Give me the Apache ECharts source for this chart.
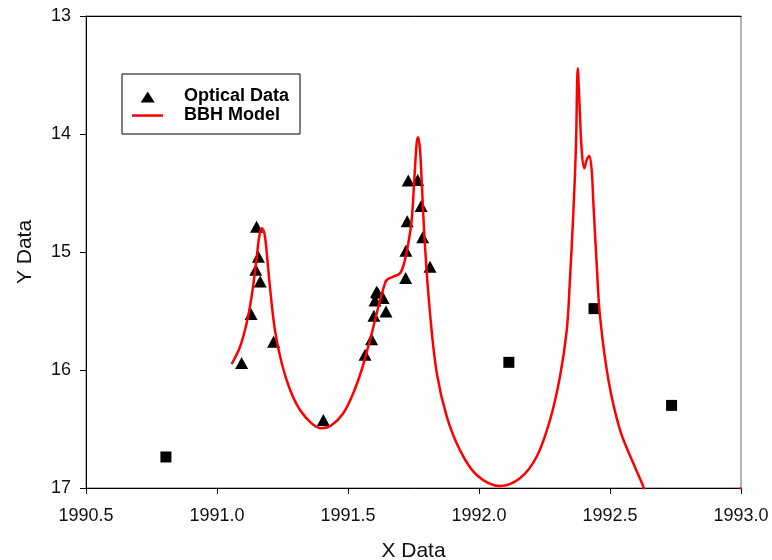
<!DOCTYPE html>
<html>
<head>
<meta charset="utf-8">
<script src="https://cdn.jsdelivr.net/npm/echarts@6/dist/echarts.min.js"></script>
<style>
	html, body { margin: 0; padding: 0; background: #fff; }
	#chart { width: 772px; height: 560px; }
</style>
</head>
<body>
<div id="chart"></div>
<script>
	// 光学观测数据 (三角)
	var opticalData = [
		[1991.094, 15.94], [1991.130, 15.525], [1991.148, 15.15], [1991.151, 14.786],
		[1991.158, 15.04], [1991.165, 15.25], [1991.216, 15.76], [1991.406, 16.424],
		[1991.565, 15.87], [1991.590, 15.74], [1991.599, 15.54], [1991.603, 15.41],
		[1991.609, 15.336], [1991.613, 15.345], [1991.634, 15.39], [1991.645, 15.505],
		[1991.720, 15.22], [1991.721, 14.99], [1991.726, 14.74], [1991.730, 14.395],
		[1991.766, 14.39], [1991.779, 14.61], [1991.785, 14.875], [1991.813, 15.125]
	];

	// 其它观测点 (方块)
	var squareData = [
		[1990.805, 16.737], [1992.114, 15.935], [1992.439, 15.48], [1992.735, 16.30]
	];

	// BBH 模型曲线
	var modelData = [
		[1991.056, 15.949], [1991.088, 15.803], [1991.113, 15.604], [1991.132, 15.379],
		[1991.152, 15.040], [1991.161, 14.870], [1991.171, 14.799], [1991.181, 14.842],
		[1991.190, 15.011], [1991.202, 15.294], [1991.221, 15.661], [1991.247, 15.943],
		[1991.279, 16.169], [1991.317, 16.339], [1991.361, 16.452], [1991.400, 16.494],
		[1991.438, 16.466], [1991.482, 16.367], [1991.520, 16.197], [1991.552, 16.000],
		[1991.577, 15.803], [1991.597, 15.633], [1991.616, 15.464], [1991.639, 15.280],
		[1991.648, 15.237], [1991.673, 15.209], [1991.698, 15.181], [1991.714, 15.096],
		[1991.730, 14.926], [1991.743, 14.729], [1991.753, 14.390], [1991.762, 14.079],
		[1991.768, 14.028], [1991.775, 14.136], [1991.781, 14.390], [1991.794, 14.955],
		[1991.813, 15.519], [1991.839, 16.028], [1991.877, 16.396], [1991.927, 16.678],
		[1991.991, 16.890], [1992.080, 16.983], [1992.156, 16.918], [1992.220, 16.735],
		[1992.271, 16.424], [1992.309, 16.057], [1992.335, 15.661], [1992.347, 15.237],
		[1992.360, 14.672], [1992.370, 14.108], [1992.377, 13.443], [1992.383, 13.712],
		[1992.392, 14.136], [1992.402, 14.290], [1992.411, 14.220], [1992.421, 14.186],
		[1992.430, 14.305], [1992.436, 14.560], [1992.449, 15.096], [1992.462, 15.548],
		[1992.494, 16.085], [1992.538, 16.508], [1992.589, 16.791], [1992.627, 16.989],
		[1992.660, 17.200], [1992.800, null], [1992.990, 17.050], [1993.000, 16.995]
	];

	var xTicks = ['1990.5', '1991.0', '1991.5', '1992.0', '1992.5', '1993.0'];
	var yTicks = ['13', '14', '15', '16', '17'];

	var font = "Arial, 'Liberation Sans', sans-serif";

	var chart = echarts.init(document.getElementById('chart'));
	chart.setOption({
		animation: false,
		backgroundColor: '#fff',
		textStyle: { fontFamily: font },
		grid: {
			left: 86,
			top: 16,
			right: 31,
			bottom: 72,
			outerBoundsMode: 'none',
			containLabel: false,
			show: true,
			borderColor: '#666',
			borderWidth: 1
		},
		legend: {
			left: 122,
			top: 74,
			orient: 'vertical',
			itemWidth: 47,
			itemHeight: 12,
			itemGap: 0,
			padding: [13, 11, 9, 10],
			borderColor: '#000',
			borderWidth: 1,
			borderRadius: 0,
			selectedMode: false,
			textStyle: {
				fontFamily: font,
				fontSize: 18,
				fontWeight: 'bold',
				color: '#000',
				lineHeight: 19
			},
			data: [
				{ name: 'Optical Data', icon: 'path://M0,0M47,12M8.7,12L15.7,1L22.7,12Z' },
				{ name: 'BBH Model', icon: 'path://M0,0M47,12M0,4.8L31,4.8L31,7.3L0,7.3Z' }
			]
		},
		xAxis: [{
			type: 'value',
			min: 1990.5,
			max: 1993,
			interval: 0.5,
			name: 'X Data',
			nameLocation: 'middle',
			nameGap: 53,
			nameTextStyle: { fontFamily: font, fontSize: 21, color: '#111' },
			axisLine: { lineStyle: { color: '#000', width: 1 } },
			axisTick: { show: true, inside: false, length: 6, lineStyle: { color: '#000' } },
			axisLabel: {
				margin: 19,
				fontFamily: font,
				fontSize: 18,
				color: '#111',
				formatter: function(v) {
					return xTicks[Math.round((v - 1990.5) / 0.5)];
				}
			},
			splitLine: { show: false }
		}, {
			type: 'value',
			position: 'top',
			min: 1990.5,
			max: 1993,
			axisLine: { show: true, lineStyle: { color: '#000', width: 1 } },
			axisTick: { show: false },
			axisLabel: { show: false },
			splitLine: { show: false }
		}],
		yAxis: {
			type: 'value',
			inverse: true,
			min: 13,
			max: 17,
			interval: 1,
			name: 'Y Data',
			nameLocation: 'middle',
			nameGap: 50,
			nameTextStyle: { fontFamily: font, fontSize: 21, color: '#111' },
			axisLine: { show: true, lineStyle: { color: '#000', width: 1 } },
			axisTick: { show: true, inside: false, length: 6, lineStyle: { color: '#000' } },
			axisLabel: {
				margin: 15,
				fontFamily: font,
				fontSize: 18,
				color: '#111',
				formatter: function(v) {
					return yTicks[Math.round(v - 13)];
				}
			},
			splitLine: { show: false }
		},
		series: [{
			name: 'Squares',
			type: 'scatter',
			symbol: 'rect',
			symbolSize: 11,
			itemStyle: { color: '#000', opacity: 1 },
			data: squareData,
			z: 2
		}, {
			name: 'Optical Data',
			type: 'scatter',
			symbol: 'triangle',
			symbolSize: [13, 12],
			itemStyle: { color: '#000', opacity: 1 },
			data: opticalData,
			z: 2
		}, {
			name: 'BBH Model',
			type: 'line',
			symbol: 'none',
			smooth: 0.35,
			connectNulls: false,
			clip: true,
			lineStyle: { color: '#ff0000', width: 2.5 },
			itemStyle: { color: '#ff0000' },
			data: modelData,
			z: 3
		}]
	});
</script>
</body>
</html>
